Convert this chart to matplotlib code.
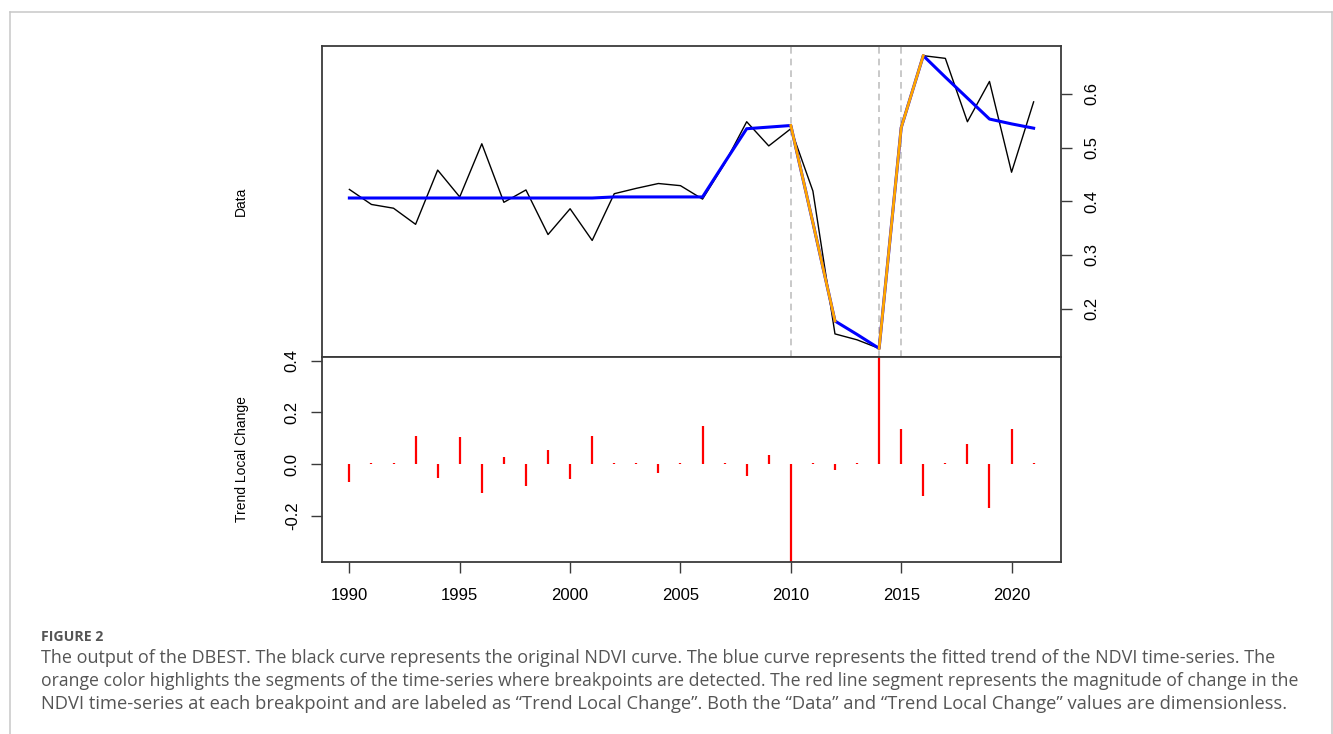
import numpy as np
import matplotlib.pyplot as plt
from matplotlib.lines import Line2D

plt.rcParams['font.family'] = ['Liberation Sans', 'DejaVu Sans']

years = [1990, 1991, 1992, 1993, 1994, 1995, 1996, 1997, 1998, 1999,
         2000, 2001, 2002, 2003, 2004, 2005, 2006, 2007, 2008, 2009,
         2010, 2011, 2012, 2013, 2014, 2015, 2016, 2017, 2018, 2019,
         2020, 2021]

ndvi = [0.422, 0.394, 0.387, 0.357, 0.458, 0.408, 0.507, 0.398, 0.421, 0.338,
        0.386, 0.327, 0.414, 0.424, 0.433, 0.429, 0.404, 0.470, 0.548, 0.503,
        0.535, 0.419, 0.153, 0.142, 0.126, 0.538, 0.671, 0.666, 0.548, 0.623,
        0.454, 0.585]

trend = [0.406, 0.406, 0.406, 0.406, 0.406, 0.406, 0.406, 0.406, 0.406, 0.406,
         0.406, 0.406, 0.408, 0.408, 0.408, 0.408, 0.408, 0.472, 0.535, 0.538,
         0.541, 0.360, 0.177, 0.152, 0.126, 0.537, 0.671, 0.631, 0.592, 0.553,
         0.544, 0.536]

# segments where breakpoints were detected (start year, end year)
break_segments = [(2010, 2012), (2014, 2016)]
break_years = [2010, 2014, 2015]

local_change = [-0.068, 0.003, 0.003, 0.108, -0.055, 0.103, -0.111, 0.028, -0.085, 0.054,
                -0.059, 0.108, 0.003, 0.003, -0.034, 0.003, 0.147, 0.003, -0.046, 0.035,
                -0.420, 0.003, -0.023, 0.003, 0.420, 0.134, -0.123, 0.003, 0.077, -0.169,
                0.134, 0.003]

caption_title = "FIGURE 2"
caption_lines = [
    "The output of the DBEST. The black curve represents the original NDVI curve. The blue curve represents the fitted trend of the NDVI time-series. The",
    "orange color highlights the segments of the time-series where breakpoints are detected. The red line segment represents the magnitude of change in the",
    "NDVI time-series at each breakpoint and are labeled as \u201cTrend Local Change\u201d. Both the \u201cData\u201d and \u201cTrend Local Change\u201d values are dimensionless.",
]
caption_sizes = [13.0, 12.7, 13.2]

W, H = 1333, 734
fig = plt.figure(figsize=(W / 100, H / 100), dpi=100)

def fx(px):
    return px / W

def fy(py):
    return 1 - py / H

ax_left, ax_right = 322, 1061
ax1 = fig.add_axes([fx(ax_left), fy(357), fx(ax_right - ax_left), (357 - 46) / H])
ax2 = fig.add_axes([fx(ax_left), fy(562), fx(ax_right - ax_left), (562 - 357) / H])

spine_col = '#3a3a3a'
for ax in (ax1, ax2):
    for s in ax.spines.values():
        s.set_color(spine_col)
        s.set_linewidth(1.3)
    ax.set_xlim(1988.76, 2022.24)
    ax.tick_params(colors=spine_col, labelcolor='black', length=8, width=1.0,
                   labelsize=12)

# --- top panel: data and fitted trend ---
yr = np.array(years)
tr = np.array(trend)
for b in break_years:
    ax1.axvline(b, color='#c0c0c0', lw=1.2, ls=(0, (4, 3)), zorder=1)
ax1.plot(years, ndvi, color='black', lw=1.0, zorder=3)
ax1.plot(years, trend, color='#0000ff', lw=2.2, zorder=4)
for s, e in break_segments:
    m = (yr >= s) & (yr <= e)
    ax1.plot(yr[m], tr[m], color='#ffa500', lw=2.0, zorder=5)

ax1.set_ylim(0.110, 0.689)
ax1.set_yticks([0.2, 0.3, 0.4, 0.5, 0.6])
ax1.yaxis.tick_right()
ax1.tick_params(axis='y', pad=9)
for lab in ax1.get_yticklabels():
    lab.set_rotation(90)
    lab.set_va('center')
ax1.set_xticks([])
ax1.set_ylabel('Data', fontsize=10)
ax1.yaxis.set_label_position('left')
ax1.yaxis.set_label_coords(fx(248 - ax_left) / fx(ax_right - ax_left), 0.5)

# --- bottom panel: trend local change ---
ax2.vlines(years, 0, local_change, colors='#ff0000', lw=1.6)
ax2.set_ylim(-0.379, 0.414)
ax2.set_yticks([-0.2, 0.0, 0.2, 0.4])
ax2.set_yticklabels(['-0.2', '0.0', '0.2', '0.4'])
ax2.tick_params(axis='y', pad=8)
for lab in ax2.get_yticklabels():
    lab.set_rotation(90)
    lab.set_va('center')
ax2.set_xticks([1990, 1995, 2000, 2005, 2010, 2015, 2020])
ax2.tick_params(axis='x', pad=11)
ax2.set_ylabel('Trend Local Change', fontsize=10)
ax2.yaxis.set_label_coords(fx(249 - ax_left) / fx(ax_right - ax_left), 0.5)

# --- frame around the figure panel ---
frame_col = '#c8c8c8'
fig.add_artist(Line2D([fx(9.5), fx(9.5)], [0, fy(12.3)], color=frame_col, lw=1.1))
fig.add_artist(Line2D([fx(9.5), fx(1331.5)], [fy(12.3), fy(12.3)], color=frame_col, lw=1.1))
fig.add_artist(Line2D([fx(1331.5), fx(1331.5)], [0, fy(12.3)], color=frame_col, lw=1.1))

# --- caption ---
cap_col = '#555555'
fig.text(fx(41), fy(641), caption_title, family=['Open Sans', 'DejaVu Sans'],
         fontsize=10.2, fontweight='bold', color=cap_col, va='baseline')
for i, line in enumerate(caption_lines):
    fig.text(fx(41), fy(663 + 23 * i), line, family=['Open Sans', 'DejaVu Sans'],
             fontsize=caption_sizes[i], color=cap_col, va='baseline')

fig.savefig('out.png', dpi=100)
